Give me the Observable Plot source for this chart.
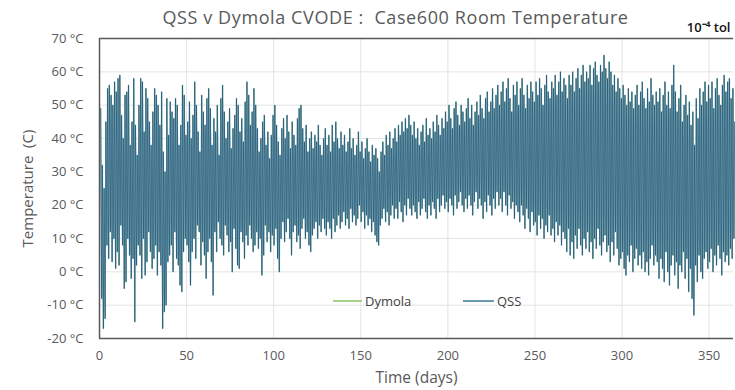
<!DOCTYPE html>
<html>
<head>
<meta charset="utf-8">
<script src="https://cdn.jsdelivr.net/npm/d3@7"></script>
<script src="https://cdn.jsdelivr.net/npm/@observablehq/plot@0.6"></script>
<style>
  body { margin: 0; background: #fff; }
  #chart { width: 735px; height: 390px; }
</style>
</head>
<body>
<div id="chart"></div>
<script>
// Daily high / low room temperature (°C), days 0..364
const dailyHigh = [
  49, 32, 25, 45, 55, 56, 53, 50, 57, 54,
  58, 59, 47, 40, 53, 54, 56, 38, 45, 58,
  44, 35, 50, 58, 57, 42, 55, 52, 45, 38,
  48, 55, 53, 50, 44, 54, 36, 30, 52, 41,
  51, 48, 46, 52, 50, 38, 44, 56, 53, 41,
  45, 51, 40, 47, 57, 50, 42, 36, 53, 48,
  44, 52, 55, 49, 38, 46, 42, 50, 35, 52,
  56, 48, 40, 45, 49, 37, 43, 47, 52, 50,
  42, 46, 39, 51, 57, 53, 44, 48, 55, 50,
  43, 36, 40, 45, 47, 38, 42, 34, 41, 47,
  50, 44, 39, 35, 43, 46, 40, 47, 42, 37,
  45, 41, 38, 46, 49, 50, 43, 39, 44, 36,
  40, 42, 37, 41, 39, 44, 38, 35, 40, 43,
  38, 41, 36, 44, 39, 45, 40, 37, 42, 38,
  41, 36, 39, 43, 37, 40, 35, 38, 42, 36,
  39, 34, 37, 40, 36, 33, 38, 35, 37, 34,
  30, 36, 39, 35, 41, 38, 42, 37, 40, 43,
  39, 44, 41, 45, 42, 46, 43, 47, 44, 41,
  45, 40, 43, 38, 42, 44, 39, 46, 41, 43,
  40, 45, 42, 47, 44, 41, 46, 43, 48, 45,
  50, 46, 43, 49, 51, 47, 44, 50, 48, 45,
  49, 52, 46, 50, 44, 48, 51, 47, 53, 49,
  46, 52, 54, 48, 51, 55, 49, 53, 56, 50,
  54, 57, 51, 55, 58, 52, 48, 56, 53, 57,
  50, 55, 58, 53, 49, 56, 52, 57, 54, 51,
  57, 53, 58, 55, 50, 56, 59, 54, 52, 57,
  55, 59, 53, 57, 60, 54, 58, 56, 52, 59,
  56, 60, 54, 58, 61, 55, 59, 62, 57, 60,
  58, 62, 56, 61, 63, 59, 57, 62, 60, 65,
  61, 58, 63, 60, 56, 59, 54, 58, 55, 52,
  56, 53, 50, 55, 51, 54, 49, 53, 56, 50,
  54, 57, 52, 49, 55, 51, 58, 53, 50, 54,
  51, 55, 48, 53, 57, 50, 54, 49, 56, 62,
  54, 48, 52, 56, 45, 50, 53, 47, 51, 44,
  48, 38, 52, 46, 55, 50, 54, 57, 51, 56,
  52, 57, 49, 55, 58, 53, 50, 56, 59, 54,
  57, 58, 52, 55, 45
];
const dailyLow = [
  18, -8, -17, -14, 8, 4, 12, 3, 10, 1,
  6, 2, 14, 8, -5, -3, 10, 5, -2, 4,
  -15, 2, 8, 5, -2, 10, -1, 3, 12, 6,
  1, 4, 8, -1, 6, 2, -17, -12, -10, 3,
  5, 8, 0, 12, 4, 2, -4, -6, 6, 10,
  8, 3, -4, 6, 10, 4, 14, 12, 2, 9,
  5, -2, 6, 10, 3, -7, 12, 6, 15, 10,
  8, 5, 14, 11, 6, 9, 0, 13, 7, 2,
  1, 12, 9, 4, 11, 8, 14, 10, 6, 8,
  12, 7, 10, -1, 5, 14, 9, 12, 6, 11,
  8, 13, 4, 0, 10, 15, 9, 12, 16, 10,
  5, 12, 14, 9, 11, 7, 13, 16, 10, 12,
  8, 6, 11, 13, 15, 10, 14, 12, 16, 13,
  11, 15, 13, 10, 16, 12, 14, 17, 13, 15,
  18, 14, 16, 13, 19, 15, 17, 14, 16, 20,
  15, 18, 13, 17, 14, 16, 12, 15, 11, 9,
  8, 14, 16, 19, 15, 18, 14, 17, 20, 16,
  19, 16, 21, 18, 15, 20, 17, 22, 19, 17,
  20, 18, 16, 21, 17, 19, 22, 18, 16, 20,
  17, 21, 19, 16, 22, 18, 20, 23, 19, 21,
  18, 22, 20, 17, 23, 19, 21, 24, 20, 18,
  22, 19, 23, 20, 17, 21, 24, 19, 22, 20,
  16, 21, 18, 23, 20, 17, 22, 19, 24, 20,
  22, 18, 24, 20, 17, 23, 19, 21, 16, 20,
  18, 15, 20, 17, 13, 19, 16, 12, 18, 14,
  15, 11, 17, 13, 16, 10, 14, 12, 17, 11,
  13, 9, 15, 11, 14, 8, 12, 10, 6, 13,
  5, 9, 4, 11, 7, 13, 8, 5, 10, 7,
  12, 6, 9, 4, 10, 7, 13, 8, 5, 9,
  11, 6, 8, 3, 9, 5, 12, 7, 2, 4,
  6, 1, -1, 5, 3, 8, 0, 4, 7, 2,
  5, 1, 6, 0, 3, -1, 4, 8, 2, 5,
  3, -2, 4, 1, -3, 6, 0, -4, 2, 5,
  -1, 3, -5, 2, 0, 6, -2, 4, -6, 1,
  -8, -13, 2, -3, 5, 0, -2, 4, 6, 1,
  3, 7, 0, 5, 2, 8, 4, -1, 6, 3,
  5, 2, 7, 4, 10
];
const xTicks = [0, 50, 100, 150, 200, 250, 300, 350];
const yTicks = [-20, -10, 0, 10, 20, 30, 40, 50, 60, 70];
const seriesNames = ["Dymola", "QSS"];
const seriesColors = ["#a9d18e", "#6b9bb0"];
const titleText = "QSS v Dymola CVODE :  Case600 Room Temperature";
const tolText = "10\u207B\u2074 tol";

// Build the time series table: a low and a high in each day
const series = [];
dailyHigh.forEach((h, i) => {
  series.push({t: i + 0.25, v: dailyLow[i]});
  series.push({t: i + 0.65, v: h});
});
if (series.length) series[0].v = dailyHigh[0]; // series begins at the first high
// consecutive segments (drawn separately so overlaps build up darker)
const segments = series.slice(1).map((p, k) => ({t1: series[k].t, v1: series[k].v, t2: p.t, v2: p.v}));

const gray = "#595959";
const chart = Plot.plot({
  width: 735,
  height: 390,
  marginLeft: 99,
  marginRight: 2,
  marginTop: 38,
  marginBottom: 52,
  style: {fontFamily: "'Open Sans', sans-serif", background: "#fff", overflow: "visible"},
  x: {domain: [0, 364]},
  y: {domain: [-20, 70]},
  marks: [
    Plot.gridX(xTicks.slice(1), {stroke: "#e3e3e3", strokeOpacity: 1}),
    Plot.gridY(yTicks, {stroke: "#e3e3e3", strokeOpacity: 1}),
    Plot.axisX(xTicks, {tickSize: 0, tickPadding: 12, fontSize: 13, fill: gray, label: null}),
    Plot.axisY(yTicks, {tickSize: 0, tickPadding: 16, fontSize: 13, fill: gray, label: null,
      tickFormat: d => `${d} °C`}),
    // Dymola (drawn underneath, matches QSS)
    Plot.line(series, {x: "t", y: "v", stroke: seriesColors[0], strokeWidth: 1}),
    // QSS
    Plot.line(series, {x: "t", y: "v", stroke: "#8db4c5", strokeWidth: 1.4}),
    Plot.link(segments, {x1: "t1", y1: "v1", x2: "t2", y2: "v2", stroke: "#073f5e", strokeOpacity: 0.55, strokeWidth: 0.9}),
    Plot.ruleY([70], {stroke: gray, strokeWidth: 1.5}),
    Plot.ruleY([-20], {stroke: gray, strokeWidth: 1.5}),
    Plot.ruleX([0], {stroke: gray, strokeWidth: 1.5}),
    Plot.text([titleText], {frameAnchor: "top", dx: -21, dy: -20, fontSize: 18, fill: gray, lineAnchor: "middle", className: "ttl"}),
    Plot.text([tolText], {frameAnchor: "top-right", textAnchor: "end", dx: -3, dy: -11, fontSize: 13, fill: "#111", fontWeight: 600, lineAnchor: "middle"}),
    Plot.text(["Temperature  (C)"], {frameAnchor: "left", textAnchor: "middle", rotate: -90, dx: -71, fontSize: 15, fill: gray, lineAnchor: "middle"}),
    Plot.text(["Time (days)"], {frameAnchor: "bottom", dy: 40, fontSize: 15.5, fill: gray, lineAnchor: "middle"})
  ]
});
document.getElementById("chart").appendChild(chart);

const svg = d3.select(chart);
svg.selectAll(".ttl text").attr("letter-spacing", "0.6px");

// Legend inside the plot area
const legendItems = [
  {name: seriesNames[0], color: seriesColors[0], x1: 333, x2: 362},
  {name: seriesNames[1], color: seriesColors[1], x1: 463, x2: 494}
];
const lg = svg.append("g").attr("font-family", "'Open Sans', sans-serif").attr("text-anchor", "start");
legendItems.forEach(d => {
  lg.append("line").attr("x1", d.x1).attr("x2", d.x2).attr("y1", 301).attr("y2", 301)
    .attr("stroke", d.color).attr("stroke-width", 2);
  lg.append("text").attr("x", d.x2 + 3).attr("y", 301).attr("dy", "0.35em")
    .attr("text-anchor", "start")
    .attr("font-size", 13).attr("fill", "#404040").text(d.name);
});
</script>
</body>
</html>
